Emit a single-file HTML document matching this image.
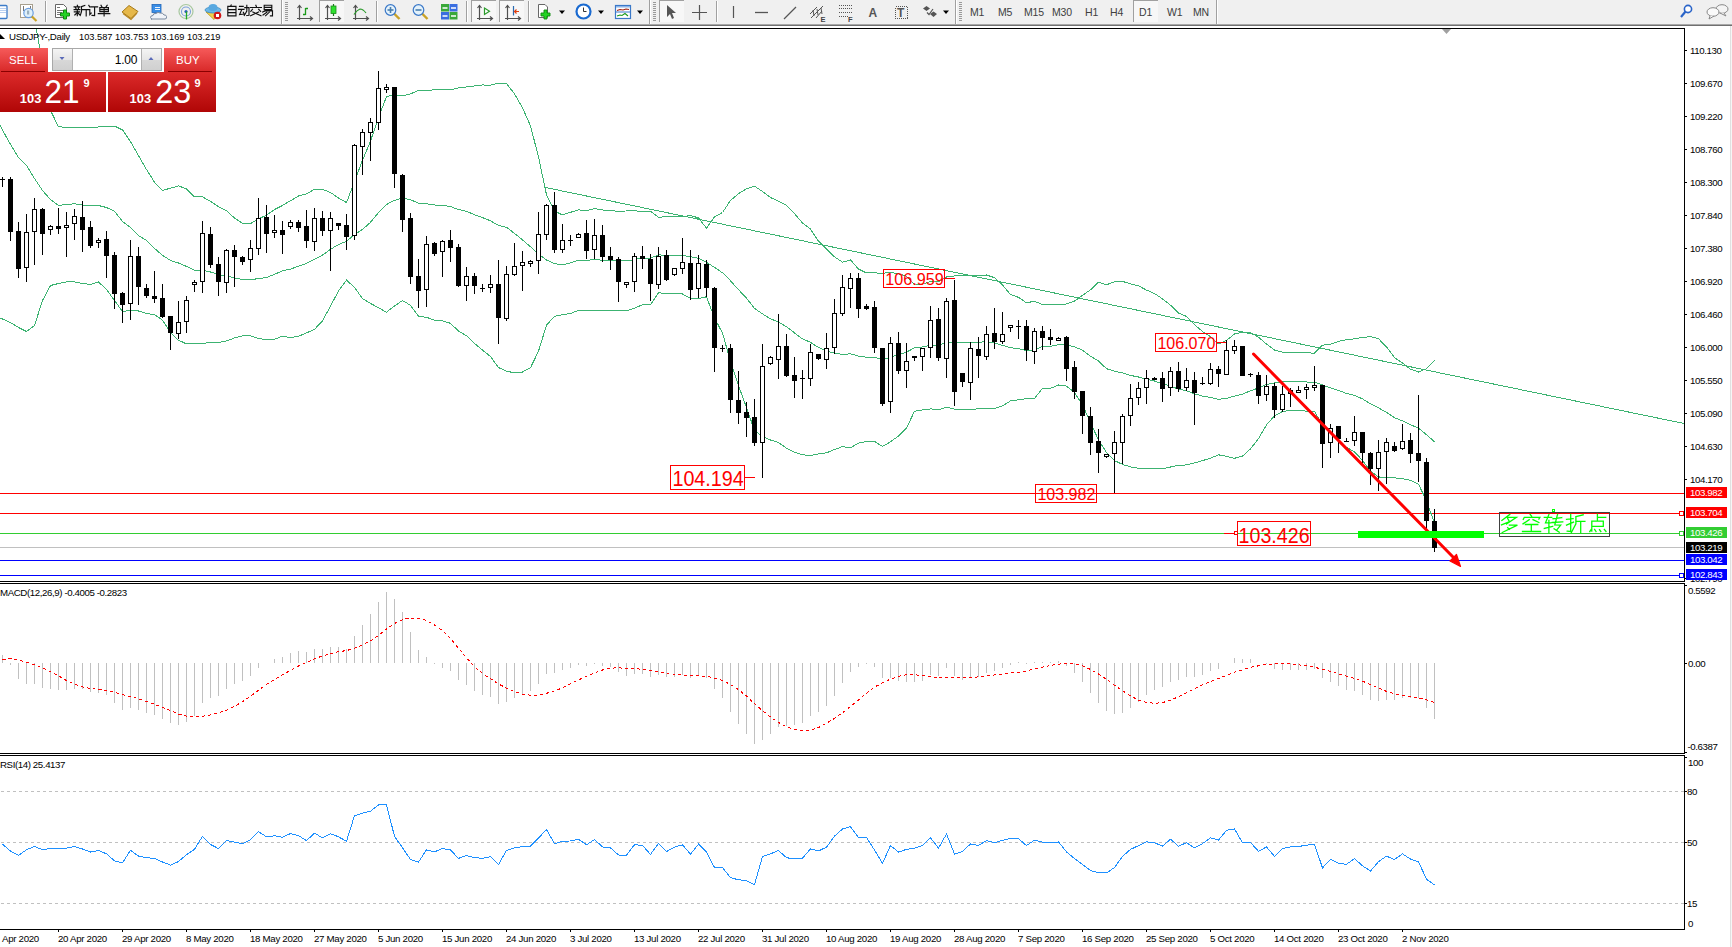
<!DOCTYPE html>
<html><head><meta charset="utf-8"><title>USDJPY Daily</title><style>
html,body{margin:0;padding:0;width:1732px;height:947px;overflow:hidden;background:#fff}
svg{display:block}
text{font-family:"Liberation Sans",sans-serif}
.ax{font-size:9.7px;letter-spacing:-0.4px;fill:#000}
</style></head><body>
<svg width="1732" height="947" viewBox="0 0 1732 947">
<defs><clipPath id="cm"><rect x="0" y="29" width="1684" height="552"/></clipPath>
<clipPath id="cmacd"><rect x="0" y="584" width="1684" height="169"/></clipPath>
<clipPath id="crsi"><rect x="0" y="756" width="1684" height="173"/></clipPath>
<linearGradient id="gtab" x1="0" y1="0" x2="0" y2="1"><stop offset="0" stop-color="#f65a5a"/><stop offset="1" stop-color="#d82828"/></linearGradient>
<linearGradient id="gpx" x1="0" y1="0" x2="0" y2="1"><stop offset="0" stop-color="#dc2a2a"/><stop offset="1" stop-color="#b00606"/></linearGradient>
<linearGradient id="gbtn" x1="0" y1="0" x2="0" y2="1"><stop offset="0" stop-color="#f4f4f4"/><stop offset="0.5" stop-color="#e6e6e6"/><stop offset="0.5" stop-color="#d8d8d8"/><stop offset="1" stop-color="#d0d0d0"/></linearGradient>
</defs>

<rect x="0" y="0" width="1732" height="24" fill="#f0f0f0"/>
<rect x="0" y="24" width="1732" height="1" fill="#a8a8a8"/><rect x="0" y="25" width="1732" height="1" fill="#707070"/>
<rect x="-4" y="5.5" width="11" height="13" rx="1" fill="#fff" stroke="#3d7cc9" stroke-width="1.3"/>
<path d="M-2 8.5H6M-2 10.5H6M-2 12.5H6" stroke="#b8cff0" stroke-width="1"/>
<rect x="20.5" y="4.5" width="12" height="13" fill="#fff" stroke="#a8a08e"/>
<path d="M23.5 6V11M30.5 6V11" stroke="#777" stroke-width="1"/>
<circle cx="28.5" cy="13" r="4.7" fill="#dff0fa" stroke="#6a9ee0" stroke-width="1.2"/>
<rect x="27" y="10.5" width="2.2" height="4" fill="#9ab0c0"/>
<path d="M32 16.5L36.5 21" stroke="#c9a227" stroke-width="2.2"/>
<rect x="45" y="1" width="1" height="21" fill="#a0a0a0"/><rect x="46" y="1" width="1" height="21" fill="#ffffff"/>
<path d="M55.5 4.5H63.5L66.5 7.5V17.5H55.5Z" fill="#fff" stroke="#666"/>
<path d="M57 7.5H60M57 10.5H63M57 12.5H62M57 14.5H61" stroke="#777"/>
<path d="M63.5 10H66.5V13H69.5V16H66.5V19H63.5V16H60.5V13H63.5Z" fill="#22d322" stroke="#0c8a0c" stroke-width="1"/>
<path d="M77.3 5.2 L77.8 6.4 M74.1 6.9 L79.9 6.9 M75.5 7.8 L76.2 9.0 M78.8 7.8 L78.2 9.0 M74.1 9.6 L79.9 9.6 M74.3 11.8 L79.6 11.8 M77.3 9.6 L77.3 15.6 M77.3 12.5 L74.8 15.0 M77.3 12.5 L79.5 14.5 M84.8 5.5 L81.5 6.6 M81.5 6.6 L81.5 11.7 L80.2 15.6 M81.5 9.6 L88.0 9.6 M86.2 9.6 L86.2 15.9 M88.8 5.4 L89.8 7.0 M88.2 9.6 L89.8 9.6 L89.8 14.5 L91.2 13.0 M90.8 6.8 L97.6 6.8 M94.6 6.8 L94.6 15.6 L92.0 15.4 M101.0 5.3 L101.8 6.6 M107.2 5.2 L106.2 6.6 M99.8 7.6 L108.4 7.6 L108.4 11.6 L99.8 11.6 L99.8 7.6 M99.8 9.6 L108.4 9.6 M104.1 7.6 L104.1 16.0 M98.3 13.6 L109.8 13.6 " fill="none" stroke="#111" stroke-width="1.15" stroke-linecap="square"/>
<path d="M122 12L129 5.5L138 11.5L131 18.5Z" fill="#e6b84a" stroke="#a67a1a" stroke-width="1"/>
<path d="M123 13.5L131 19.5L137 13" fill="none" stroke="#b8861f" stroke-width="1.2"/>
<rect x="152" y="4.5" width="9" height="8" fill="#3a8ee6" stroke="#1f64b8" stroke-width="0.8"/>
<path d="M155 7.5H160M155 9.5H160" stroke="#fff" stroke-width="0.9"/>
<path d="M151 19H165Q167 19 166.5 16.5Q166 14.5 164 15Q163 12.5 160 13Q158 11.5 156 13.5Q153 13 153 15.5Q150.5 15.5 150.5 17.5Q151 19 152 19Z" fill="#f0f3f8" stroke="#7a8aa0" stroke-width="1"/>
<circle cx="186" cy="11.5" r="7" fill="none" stroke="#a8c8a0" stroke-width="1.2"/>
<circle cx="186" cy="11.5" r="4.5" fill="none" stroke="#7aa0d8" stroke-width="1.1"/>
<circle cx="186" cy="11.5" r="1.6" fill="#2a5fc0"/>
<path d="M186.5 11.5V19.5" stroke="#22aa22" stroke-width="1.3"/>
<path d="M206 12L214 19.5L220 13Z" fill="#f2d24a" stroke="#b89a20" stroke-width="0.8"/>
<ellipse cx="213" cy="10" rx="8" ry="3" fill="#6ab8e8" stroke="#3a88c0" stroke-width="0.8"/>
<ellipse cx="213" cy="7.5" rx="4.5" ry="3.5" fill="#58a8e0"/>
<circle cx="217.5" cy="15.5" r="3.8" fill="#d01818"/><rect x="216" y="14" width="3" height="3" fill="#fff"/>
<path d="M231.2 5.0 L230.5 6.2 M227.8 6.4 L236.0 6.4 L236.0 15.8 L227.8 15.8 L227.8 6.4 M227.8 9.6 L236.0 9.6 M227.8 12.6 L236.0 12.6 M239.5 6.4 L243.2 6.4 M238.5 9.3 L244.0 9.3 M241.8 9.5 L239.6 14.6 L244.5 14.0 M243.3 12.2 L244.6 14.8 M244.8 7.6 L249.0 7.6 L249.0 15.2 L246.8 15.5 M246.8 5.3 L246.8 11.0 L244.3 15.5 M255.8 5.2 L256.4 6.6 M250.6 7.5 L261.4 7.5 M252.5 9.2 L250.8 11.4 M258.6 9.2 L260.6 11.4 M252.8 12.0 L261.0 15.8 M258.6 12.0 L250.6 15.8 M264.2 5.2 L271.8 5.2 L271.8 9.6 L264.2 9.6 L264.2 5.2 M264.2 7.4 L271.8 7.4 M262.6 12.0 L265.8 10.6 M265.4 10.9 L272.5 10.9 L272.5 15.8 L270.4 15.8 M266.8 12.2 L263.0 15.0 M269.3 12.2 L265.6 15.8 " fill="none" stroke="#111" stroke-width="1.15" stroke-linecap="square"/>
<rect x="281" y="0" width="1" height="24" fill="#a0a0a0"/><rect x="282" y="0" width="1" height="24" fill="#ffffff"/>
<rect x="285" y="2" width="3" height="1" fill="#9a9a9a"/><rect x="285" y="4" width="3" height="1" fill="#9a9a9a"/><rect x="285" y="6" width="3" height="1" fill="#9a9a9a"/><rect x="285" y="8" width="3" height="1" fill="#9a9a9a"/><rect x="285" y="10" width="3" height="1" fill="#9a9a9a"/><rect x="285" y="12" width="3" height="1" fill="#9a9a9a"/><rect x="285" y="14" width="3" height="1" fill="#9a9a9a"/><rect x="285" y="16" width="3" height="1" fill="#9a9a9a"/><rect x="285" y="18" width="3" height="1" fill="#9a9a9a"/><rect x="285" y="20" width="3" height="1" fill="#9a9a9a"/>
<g stroke="#505050" stroke-width="1.2" fill="none"><path d="M299.5 6V20M297 18.5H312"/><path d="M297.5 8L299.5 5.5L301.5 8M310 16.5L312.5 18.5L310 20.5"/></g>
<path d="M305.5 15V8M305.5 8.5H308M305.5 14.5H303" stroke="#1a9a1a" stroke-width="1.3" fill="none"/>
<rect x="319" y="0" width="25" height="22" fill="#f7f7f7"/><rect x="319" y="0" width="25" height="1" fill="#a0a0a0"/><rect x="319" y="0" width="1" height="22" fill="#a0a0a0"/>
<g stroke="#505050" stroke-width="1.2" fill="none"><path d="M327.5 6V20M325 18.5H340"/><path d="M325.5 8L327.5 5.5L329.5 8M338 16.5L340.5 18.5L338 20.5"/></g>
<path d="M333.5 4V16" stroke="#1a7a1a" stroke-width="1.2"/><rect x="331" y="6" width="5" height="7.5" fill="#2ee02e" stroke="#1a8a1a" stroke-width="0.8"/>
<g stroke="#505050" stroke-width="1.2" fill="none"><path d="M355.5 6V20M353 18.5H368"/><path d="M353.5 8L355.5 5.5L357.5 8M366 16.5L368.5 18.5L366 20.5"/></g>
<path d="M354 14.5Q357 10 360 9Q363 9 366 13" fill="none" stroke="#2a9a2a" stroke-width="1.2"/>
<rect x="376" y="1" width="1" height="21" fill="#a0a0a0"/><rect x="377" y="1" width="1" height="21" fill="#ffffff"/>
<path d="M394.0 13.5L399.5 19" stroke="#c9a227" stroke-width="2.4"/>
<circle cx="390.5" cy="10" r="5.3" fill="#e4f2fb" stroke="#3a78c8" stroke-width="1.2"/>
<path d="M387.5 10H393.5" stroke="#4a7fb0" stroke-width="1.6"/>
<path d="M390.5 7V13" stroke="#4a7fb0" stroke-width="1.6"/>
<path d="M422.0 13.5L427.5 19" stroke="#c9a227" stroke-width="2.4"/>
<circle cx="418.5" cy="10" r="5.3" fill="#e4f2fb" stroke="#3a78c8" stroke-width="1.2"/>
<path d="M415.5 10H421.5" stroke="#4a7fb0" stroke-width="1.6"/>
<rect x="441" y="4" width="8" height="7.5" fill="#3aa83a"/><rect x="449.5" y="4" width="8" height="7.5" fill="#3a6ee0"/>
<rect x="441" y="12" width="8" height="7.5" fill="#3a6ee0"/><rect x="449.5" y="12" width="8" height="7.5" fill="#3aa83a"/>
<path d="M442.5 8H447.5M451 8H456M442.5 16H447.5M451 16H456" stroke="#fff" stroke-width="1.6"/>
<rect x="466" y="1" width="1" height="21" fill="#a0a0a0"/><rect x="467" y="1" width="1" height="21" fill="#ffffff"/>
<rect x="471" y="0" width="25" height="22" fill="#f7f7f7"/><rect x="471" y="0" width="25" height="1" fill="#a0a0a0"/><rect x="471" y="0" width="1" height="22" fill="#a0a0a0"/>
<g stroke="#505050" stroke-width="1.2" fill="none"><path d="M479.5 6V20M477 18.5H492"/><path d="M477.5 8L479.5 5.5L481.5 8M490 16.5L492.5 18.5L490 20.5"/></g>
<path d="M484.5 8V14.5L489.5 11.2Z" fill="#fff" stroke="#2a9a2a" stroke-width="1.2"/>
<rect x="499" y="0" width="25" height="22" fill="#f7f7f7"/><rect x="499" y="0" width="25" height="1" fill="#a0a0a0"/><rect x="499" y="0" width="1" height="22" fill="#a0a0a0"/>
<g stroke="#505050" stroke-width="1.2" fill="none"><path d="M507.5 6V20M505 18.5H520"/><path d="M505.5 8L507.5 5.5L509.5 8M518 16.5L520.5 18.5L518 20.5"/></g>
<path d="M513.5 6V15.5" stroke="#2a6ab0" stroke-width="1.2"/><path d="M514.5 11.5H519M516.5 9.5L514.5 11.5L516.5 13.5" stroke="#e04010" stroke-width="1.2" fill="none"/>
<rect x="528" y="1" width="1" height="21" fill="#a0a0a0"/><rect x="529" y="1" width="1" height="21" fill="#ffffff"/>
<path d="M538.5 4.5H545L547.5 7V17.5H538.5Z" fill="#fff" stroke="#666"/>
<path d="M544 10H547V13H550V16H547V19H544V16H541V13H544Z" fill="#22d322" stroke="#0c8a0c" stroke-width="0.9"/>
<path d="M559 10.5H565L562 14Z" fill="#000"/>
<circle cx="583.5" cy="11.5" r="7" fill="#fff" stroke="#1a6ad0" stroke-width="2.2"/>
<path d="M583.5 7.5V11.5H586.5" stroke="#333" stroke-width="1" fill="none"/>
<path d="M598 10.5H604L601 14Z" fill="#000"/>
<rect x="615.5" y="5.5" width="15" height="13" fill="#fff" stroke="#3a78c8" stroke-width="1.2"/>
<rect x="616" y="6" width="14" height="1.5" fill="#8ab4e8"/><path d="M616 12H630" stroke="#3a78c8"/>
<path d="M617 10.5L620 9.5L623 10L626 9L629 9.5" stroke="#a02010" fill="none" stroke-width="1.1"/>
<path d="M617 16L620 15L622 15.5L625 13.5L628 16" stroke="#1a9a1a" fill="none" stroke-width="1.1"/>
<path d="M637 10.5H643L640 14Z" fill="#000"/>
<rect x="649" y="0" width="1" height="24" fill="#a0a0a0"/><rect x="650" y="0" width="1" height="24" fill="#ffffff"/>
<rect x="653" y="2" width="3" height="1" fill="#9a9a9a"/><rect x="653" y="4" width="3" height="1" fill="#9a9a9a"/><rect x="653" y="6" width="3" height="1" fill="#9a9a9a"/><rect x="653" y="8" width="3" height="1" fill="#9a9a9a"/><rect x="653" y="10" width="3" height="1" fill="#9a9a9a"/><rect x="653" y="12" width="3" height="1" fill="#9a9a9a"/><rect x="653" y="14" width="3" height="1" fill="#9a9a9a"/><rect x="653" y="16" width="3" height="1" fill="#9a9a9a"/><rect x="653" y="18" width="3" height="1" fill="#9a9a9a"/><rect x="653" y="20" width="3" height="1" fill="#9a9a9a"/>
<rect x="659" y="0" width="25" height="22" fill="#f7f7f7"/><rect x="659" y="0" width="25" height="1" fill="#a0a0a0"/><rect x="659" y="0" width="1" height="22" fill="#a0a0a0"/>
<path d="M667 5V17L670 14L672 19L674 18L672 13H676Z" fill="#555"/>
<path d="M692 12.5H707M699.5 5V20" stroke="#555" stroke-width="1.2"/>
<rect x="716" y="1" width="1" height="21" fill="#a0a0a0"/><rect x="717" y="1" width="1" height="21" fill="#ffffff"/>
<path d="M733.5 6V18" stroke="#555" stroke-width="1.2"/>
<path d="M755 12.5H768" stroke="#555" stroke-width="1.3"/>
<path d="M784 19L796 7" stroke="#555" stroke-width="1.2"/>
<path d="M810 14L817 7M811 18L823 6M816 18L822 11M813 10L814 16M817 9L818 15M821 8L822 14" stroke="#555" stroke-width="1"/>
<text x="820.5" y="21.5" font-size="7.5" font-weight="bold" fill="#444">E</text>
<path d="M839 5.5H852M839 8.5H852M839 12.5H852M839 16.5H848" stroke="#555" stroke-dasharray="1 1" shape-rendering="crispEdges"/>
<text x="848" y="21.5" font-size="7.5" font-weight="bold" fill="#444">F</text>
<text x="868.5" y="17" font-size="12" font-weight="bold" fill="#555">A</text>
<rect x="895.5" y="6.5" width="12" height="12" fill="none" stroke="#555" stroke-dasharray="1 1" shape-rendering="crispEdges"/>
<text x="897" y="17" font-size="12" font-weight="bold" fill="#555">T</text>
<path d="M923 8.5L926.5 6L930 8.5L926.5 11ZM930 14L933.5 11.5L937 14L933.5 17Z" fill="#555"/><path d="M927 12.5L929 14.5L933 9" stroke="#555" stroke-width="1.2" fill="none"/>
<path d="M943 10.5H949L946 14Z" fill="#000"/>
<rect x="955" y="0" width="1" height="24" fill="#a0a0a0"/><rect x="956" y="0" width="1" height="24" fill="#ffffff"/>
<rect x="959" y="2" width="3" height="1" fill="#9a9a9a"/><rect x="959" y="4" width="3" height="1" fill="#9a9a9a"/><rect x="959" y="6" width="3" height="1" fill="#9a9a9a"/><rect x="959" y="8" width="3" height="1" fill="#9a9a9a"/><rect x="959" y="10" width="3" height="1" fill="#9a9a9a"/><rect x="959" y="12" width="3" height="1" fill="#9a9a9a"/><rect x="959" y="14" width="3" height="1" fill="#9a9a9a"/><rect x="959" y="16" width="3" height="1" fill="#9a9a9a"/><rect x="959" y="18" width="3" height="1" fill="#9a9a9a"/><rect x="959" y="20" width="3" height="1" fill="#9a9a9a"/>
<text x="970" y="16" font-size="10.5" fill="#404040" letter-spacing="-0.2">M1</text>
<text x="998" y="16" font-size="10.5" fill="#404040" letter-spacing="-0.2">M5</text>
<text x="1024" y="16" font-size="10.5" fill="#404040" letter-spacing="-0.2">M15</text>
<text x="1052" y="16" font-size="10.5" fill="#404040" letter-spacing="-0.2">M30</text>
<text x="1085" y="16" font-size="10.5" fill="#404040" letter-spacing="-0.2">H1</text>
<text x="1110" y="16" font-size="10.5" fill="#404040" letter-spacing="-0.2">H4</text>
<rect x="1133" y="0" width="25" height="22" fill="#f7f7f7"/><rect x="1133" y="0" width="25" height="1" fill="#a0a0a0"/><rect x="1133" y="0" width="1" height="22" fill="#a0a0a0"/>
<text x="1139" y="16" font-size="10.5" fill="#404040" letter-spacing="-0.2">D1</text>
<text x="1167" y="16" font-size="10.5" fill="#404040" letter-spacing="-0.2">W1</text>
<text x="1193" y="16" font-size="10.5" fill="#404040" letter-spacing="-0.2">MN</text>
<rect x="1216" y="0" width="1" height="24" fill="#a0a0a0"/><rect x="1217" y="0" width="1" height="24" fill="#ffffff"/>
<circle cx="1688" cy="9" r="3.6" fill="#fff" stroke="#2a64c8" stroke-width="1.6"/><path d="M1685.5 11.5L1681 17" stroke="#2a64c8" stroke-width="2.2"/>
<ellipse cx="1722" cy="9" rx="6" ry="4.3" fill="#f4f4f4" stroke="#888"/><path d="M1724 13L1726 16L1720 13" fill="#f4f4f4" stroke="#888"/>
<ellipse cx="1713" cy="12" rx="6" ry="4.3" fill="#fafafa" stroke="#888"/><path d="M1710 16L1709 19L1714 16" fill="#fafafa" stroke="#888"/>
<rect x="0" y="26" width="1732" height="2" fill="#fff"/>
<g shape-rendering="crispEdges">
<path d="M0 28.5H1684.5V581.5H0" fill="none" stroke="#000"/>
<path d="M0 583.5H1684.5V753.5H0" fill="none" stroke="#000"/>
<path d="M0 755.5H1684.5V929.5H0" fill="none" stroke="#000"/>
<rect x="1730" y="26" width="1" height="921" fill="#e0e0e0"/><rect x="1731" y="26" width="1" height="921" fill="#f6f6f6"/>
</g>
<g clip-path="url(#cm)">
<path d="M0 493.5H1684" stroke="#ff0000" shape-rendering="crispEdges"/>
<path d="M0 513.5H1684" stroke="#ff0000" shape-rendering="crispEdges"/>
<path d="M0 533.5H1684" stroke="#32cd32" shape-rendering="crispEdges"/>
<path d="M0 547.5H1684" stroke="#c0c0c0" shape-rendering="crispEdges"/>
<path d="M0 560.5H1684" stroke="#0000ff" shape-rendering="crispEdges"/>
<path d="M0 575.5H1684" stroke="#0000ff" shape-rendering="crispEdges"/>
<polyline points="34.5,18.5 42.5,63.5 50.5,110.5 58.5,126.7 66.5,127.5 74.5,127.8 82.5,127.8 90.5,127.5 98.5,127.0 106.5,126.7 114.5,126.1 122.5,129.9 130.5,141.5 138.5,155.5 146.5,169.5 154.5,182.2 162.5,190.4 170.5,188.2 178.5,185.9 186.5,188.9 194.5,196.8 202.5,196.8 210.5,201.4 218.5,206.7 226.5,210.8 234.5,218.0 242.5,223.2 250.5,223.6 258.5,218.7 266.5,215.3 274.5,209.5 282.5,205.5 290.5,200.7 298.5,196.0 306.5,193.9 314.5,189.3 322.5,189.4 330.5,192.5 338.5,198.0 346.5,202.6 354.5,181.4 362.5,160.3 370.5,141.1 378.5,117.4 386.5,96.7 394.5,94.7 402.5,96.0 410.5,93.9 418.5,90.4 426.5,90.3 434.5,89.9 442.5,89.9 450.5,89.8 458.5,87.9 466.5,86.9 474.5,86.0 482.5,85.0 490.5,85.1 498.5,83.3 506.5,83.6 514.5,93.8 522.5,107.7 530.5,125.9 538.5,157.0 546.5,194.8 554.5,211.2 562.5,214.9 570.5,212.3 578.5,209.9 586.5,210.6 594.5,208.5 602.5,210.0 610.5,210.9 618.5,211.1 626.5,211.0 634.5,210.9 642.5,211.3 650.5,211.3 658.5,217.2 666.5,216.8 674.5,216.8 682.5,216.8 690.5,215.4 698.5,218.0 706.5,228.1 714.5,216.9 722.5,212.5 730.5,200.4 738.5,193.7 746.5,188.8 754.5,186.1 762.5,191.5 770.5,197.5 778.5,201.3 786.5,205.2 794.5,213.6 802.5,223.0 810.5,229.1 818.5,241.1 826.5,249.1 834.5,256.8 842.5,262.2 850.5,259.9 858.5,269.1 866.5,272.9 874.5,272.9 882.5,273.3 890.5,272.3 898.5,273.8 906.5,276.2 914.5,284.4 922.5,284.1 930.5,281.4 938.5,281.8 946.5,277.0 954.5,276.0 962.5,275.8 970.5,275.7 978.5,275.7 986.5,275.0 994.5,277.7 1002.5,284.9 1010.5,294.5 1018.5,297.4 1026.5,302.8 1034.5,301.2 1042.5,304.7 1050.5,304.5 1058.5,304.4 1066.5,304.0 1074.5,301.1 1082.5,295.3 1090.5,289.8 1098.5,282.2 1106.5,284.8 1114.5,281.7 1122.5,281.4 1130.5,283.9 1138.5,285.8 1146.5,290.1 1154.5,293.5 1162.5,298.9 1170.5,305.2 1178.5,313.0 1186.5,316.4 1194.5,324.6 1202.5,331.5 1210.5,336.7 1218.5,343.9 1226.5,340.4 1234.5,334.0 1242.5,332.1 1250.5,332.6 1258.5,337.2 1266.5,344.1 1274.5,350.0 1282.5,352.1 1290.5,352.5 1298.5,352.4 1306.5,352.9 1314.5,353.1 1322.5,345.2 1330.5,344.3 1338.5,341.3 1346.5,339.6 1354.5,338.9 1362.5,337.4 1370.5,336.7 1378.5,338.7 1386.5,347.0 1394.5,357.5 1402.5,363.1 1410.5,369.2 1418.5,372.0 1426.5,368.7 1434.5,360.2" fill="none" stroke="#3cb371" stroke-width="1" shape-rendering="crispEdges"/>
<polyline points="-5.5,113.5 2.5,130.0 10.5,144.5 18.5,157.5 26.5,165.5 34.5,178.5 42.5,190.5 50.5,199.5 58.5,205.5 66.5,204.5 74.5,203.8 82.5,205.0 90.5,205.5 98.5,205.5 106.5,207.5 114.5,211.2 122.5,221.5 130.5,227.5 138.5,235.5 146.5,240.5 154.5,248.4 162.5,255.3 170.5,260.4 178.5,263.0 186.5,266.4 194.5,270.1 202.5,270.1 210.5,272.0 218.5,274.6 226.5,275.9 234.5,277.9 242.5,279.6 250.5,279.7 258.5,278.6 266.5,277.5 274.5,274.3 282.5,270.8 290.5,269.1 298.5,266.2 306.5,263.4 314.5,259.4 322.5,255.1 330.5,249.3 338.5,244.5 346.5,241.3 354.5,234.5 362.5,229.4 370.5,222.3 378.5,212.6 386.5,204.5 394.5,200.3 402.5,198.2 410.5,199.6 418.5,203.3 426.5,203.8 434.5,205.0 442.5,205.3 450.5,206.6 458.5,209.5 466.5,211.3 474.5,214.7 482.5,217.6 490.5,220.8 498.5,225.4 506.5,227.3 514.5,233.4 522.5,239.9 530.5,246.8 538.5,254.1 546.5,260.0 554.5,263.7 562.5,264.8 570.5,262.9 578.5,260.1 586.5,260.4 594.5,259.5 602.5,260.3 610.5,260.9 618.5,260.7 626.5,261.0 634.5,259.5 642.5,258.0 650.5,258.0 658.5,254.9 666.5,255.2 674.5,255.4 682.5,255.4 690.5,256.8 698.5,258.3 706.5,262.4 714.5,267.4 722.5,272.8 730.5,280.8 738.5,289.7 746.5,298.1 754.5,308.4 762.5,313.9 770.5,318.8 778.5,322.0 786.5,326.7 794.5,332.9 802.5,338.9 810.5,342.3 818.5,347.5 826.5,350.9 834.5,353.2 842.5,354.4 850.5,353.8 858.5,356.1 866.5,357.2 874.5,357.2 882.5,359.9 890.5,357.0 898.5,354.9 906.5,352.1 914.5,347.9 922.5,347.0 930.5,345.2 938.5,345.8 946.5,342.0 954.5,342.6 962.5,342.7 970.5,342.5 978.5,342.3 986.5,341.6 994.5,343.0 1002.5,345.4 1010.5,347.7 1018.5,348.6 1026.5,350.7 1034.5,349.8 1042.5,346.5 1050.5,346.4 1058.5,344.7 1066.5,345.1 1074.5,346.8 1082.5,350.2 1090.5,356.3 1098.5,361.0 1106.5,368.7 1114.5,371.2 1122.5,372.9 1130.5,375.4 1138.5,377.0 1146.5,379.2 1154.5,381.0 1162.5,383.8 1170.5,386.1 1178.5,389.2 1186.5,390.7 1194.5,393.8 1202.5,396.1 1210.5,397.5 1218.5,399.3 1226.5,398.4 1234.5,396.1 1242.5,394.1 1250.5,390.8 1258.5,387.9 1266.5,384.5 1274.5,382.9 1282.5,381.8 1290.5,381.4 1298.5,381.5 1306.5,382.0 1314.5,382.2 1322.5,385.0 1330.5,387.8 1338.5,390.4 1346.5,393.5 1354.5,395.4 1362.5,398.9 1370.5,403.9 1378.5,407.8 1386.5,412.4 1394.5,417.7 1402.5,420.9 1410.5,424.8 1418.5,428.1 1426.5,434.8 1434.5,441.7" fill="none" stroke="#3cb371" stroke-width="1" shape-rendering="crispEdges"/>
<polyline points="-5.5,317.0 2.5,319.0 10.5,322.5 18.5,327.5 26.5,331.5 34.5,325.5 42.5,300.5 50.5,285.5 58.5,283.5 66.5,282.0 74.5,281.9 82.5,283.5 90.5,284.5 98.5,281.9 106.5,289.5 114.5,300.5 122.5,311.5 130.5,310.5 138.5,311.0 146.5,313.5 154.5,314.6 162.5,320.2 170.5,332.6 178.5,340.2 186.5,343.9 194.5,343.3 202.5,343.4 210.5,342.6 218.5,342.6 226.5,341.0 234.5,337.9 242.5,335.9 250.5,335.7 258.5,338.4 266.5,339.7 274.5,339.2 282.5,336.2 290.5,337.6 298.5,336.3 306.5,332.9 314.5,329.4 322.5,320.8 330.5,306.1 338.5,291.0 346.5,280.1 354.5,287.5 362.5,298.5 370.5,303.4 378.5,307.8 386.5,312.2 394.5,306.0 402.5,300.5 410.5,305.3 418.5,316.2 426.5,317.3 434.5,320.1 442.5,320.8 450.5,323.3 458.5,331.1 466.5,335.7 474.5,343.4 482.5,350.1 490.5,356.5 498.5,367.6 506.5,371.1 514.5,372.9 522.5,372.0 530.5,367.7 538.5,351.2 546.5,325.1 554.5,316.3 562.5,314.6 570.5,313.5 578.5,310.3 586.5,310.3 594.5,310.4 602.5,310.6 610.5,310.9 618.5,310.2 626.5,311.0 634.5,308.1 642.5,304.7 650.5,304.7 658.5,292.7 666.5,293.6 674.5,293.9 682.5,294.0 690.5,298.3 698.5,298.6 706.5,296.8 714.5,317.9 722.5,333.1 730.5,361.2 738.5,385.8 746.5,407.4 754.5,430.8 762.5,436.3 770.5,440.0 778.5,442.6 786.5,448.2 794.5,452.2 802.5,454.8 810.5,455.6 818.5,453.9 826.5,452.8 834.5,449.5 842.5,446.6 850.5,447.8 858.5,443.2 866.5,441.4 874.5,441.4 882.5,446.5 890.5,441.8 898.5,436.0 906.5,428.0 914.5,411.3 922.5,409.9 930.5,408.9 938.5,409.7 946.5,407.1 954.5,409.1 962.5,409.6 970.5,409.3 978.5,408.9 986.5,408.2 994.5,408.4 1002.5,405.8 1010.5,400.9 1018.5,399.8 1026.5,398.6 1034.5,398.4 1042.5,388.3 1050.5,388.3 1058.5,385.0 1066.5,386.1 1074.5,392.5 1082.5,405.0 1090.5,422.7 1098.5,439.9 1106.5,452.6 1114.5,460.6 1122.5,464.4 1130.5,466.9 1138.5,468.2 1146.5,468.3 1154.5,468.6 1162.5,468.7 1170.5,467.0 1178.5,465.4 1186.5,464.9 1194.5,462.9 1202.5,460.6 1210.5,458.2 1218.5,454.8 1226.5,456.4 1234.5,458.3 1242.5,456.1 1250.5,448.9 1258.5,438.6 1266.5,424.9 1274.5,415.8 1282.5,411.5 1290.5,410.3 1298.5,410.5 1306.5,411.1 1314.5,411.4 1322.5,424.9 1330.5,431.3 1338.5,439.4 1346.5,447.3 1354.5,451.9 1362.5,460.4 1370.5,471.2 1378.5,476.9 1386.5,477.8 1394.5,477.8 1402.5,478.7 1410.5,480.4 1418.5,484.2 1426.5,500.9 1434.5,523.2" fill="none" stroke="#3cb371" stroke-width="1" shape-rendering="crispEdges"/>
<path d="M545.5 187.5L1684 423.5" stroke="#3cb371" fill="none" shape-rendering="crispEdges"/>
<g shape-rendering="crispEdges" stroke="#000" stroke-width="1">
<path d="M2.5 177V187"/>
<path d="M0 179.5H5"/>
<path d="M10.5 177V241"/>
<rect x="8" y="179" width="5" height="53" fill="#000" stroke="none"/>
<path d="M18.5 222V278"/>
<rect x="16" y="231" width="5" height="38" fill="#000" stroke="none"/>
<path d="M26.5 214V282"/>
<rect x="24.5" y="232.5" width="4" height="35" fill="#fff"/>
<path d="M34.5 198V265"/>
<rect x="32.5" y="209.5" width="4" height="22" fill="#fff"/>
<path d="M42.5 208V255"/>
<rect x="40" y="209" width="5" height="25" fill="#000" stroke="none"/>
<path d="M50.5 225V235"/>
<rect x="48.5" y="226.5" width="4" height="3" fill="#fff"/>
<path d="M58.5 208V234"/>
<rect x="56" y="226" width="5" height="3" fill="#000" stroke="none"/>
<path d="M66.5 212V257"/>
<rect x="64.5" y="225.5" width="4" height="2" fill="#fff"/>
<path d="M74.5 209V240"/>
<rect x="72.5" y="216.5" width="4" height="7" fill="#fff"/>
<path d="M82.5 201V252"/>
<rect x="80" y="217" width="5" height="13" fill="#000" stroke="none"/>
<path d="M90.5 221V248"/>
<rect x="88" y="227" width="5" height="19" fill="#000" stroke="none"/>
<path d="M98.5 238V248"/>
<rect x="96.5" y="240.5" width="4" height="2" fill="#fff"/>
<path d="M106.5 231V278"/>
<rect x="104" y="239" width="5" height="17" fill="#000" stroke="none"/>
<path d="M114.5 252V309"/>
<rect x="112" y="255" width="5" height="39" fill="#000" stroke="none"/>
<path d="M122.5 292V323"/>
<rect x="120" y="293" width="5" height="12" fill="#000" stroke="none"/>
<path d="M130.5 240V320"/>
<rect x="128.5" y="256.5" width="4" height="47" fill="#fff"/>
<path d="M138.5 247V305"/>
<rect x="136" y="256" width="5" height="31" fill="#000" stroke="none"/>
<path d="M146.5 284V298"/>
<rect x="144" y="288" width="5" height="8" fill="#000" stroke="none"/>
<path d="M154.5 271V303"/>
<rect x="152" y="296" width="5" height="3" fill="#000" stroke="none"/>
<path d="M162.5 284V318"/>
<rect x="160" y="298" width="5" height="19" fill="#000" stroke="none"/>
<path d="M170.5 316V350"/>
<rect x="168" y="316" width="5" height="17" fill="#000" stroke="none"/>
<path d="M178.5 301V339"/>
<rect x="176.5" y="322.5" width="4" height="11" fill="#fff"/>
<path d="M186.5 296V333"/>
<rect x="184.5" y="300.5" width="4" height="21" fill="#fff"/>
<path d="M194.5 280V292"/>
<rect x="192.5" y="282.5" width="4" height="2" fill="#fff"/>
<path d="M202.5 221V293"/>
<rect x="200.5" y="233.5" width="4" height="48" fill="#fff"/>
<path d="M210.5 227V268"/>
<rect x="208" y="234" width="5" height="31" fill="#000" stroke="none"/>
<path d="M218.5 257V296"/>
<rect x="216" y="264" width="5" height="18" fill="#000" stroke="none"/>
<path d="M226.5 249V293"/>
<rect x="224.5" y="250.5" width="4" height="32" fill="#fff"/>
<path d="M234.5 245V287"/>
<rect x="232" y="250" width="5" height="7" fill="#000" stroke="none"/>
<path d="M242.5 256V265"/>
<rect x="240" y="257" width="5" height="5" fill="#000" stroke="none"/>
<path d="M250.5 240V272"/>
<rect x="248.5" y="248.5" width="4" height="11" fill="#fff"/>
<path d="M258.5 198V255"/>
<rect x="256.5" y="218.5" width="4" height="30" fill="#fff"/>
<path d="M266.5 205V253"/>
<rect x="264" y="217" width="5" height="17" fill="#000" stroke="none"/>
<path d="M274.5 215V238"/>
<rect x="272.5" y="230.5" width="4" height="2" fill="#fff"/>
<path d="M282.5 221V254"/>
<rect x="280" y="230" width="5" height="5" fill="#000" stroke="none"/>
<path d="M290.5 220V229"/>
<rect x="288.5" y="222.5" width="4" height="4" fill="#fff"/>
<path d="M298.5 220V232"/>
<rect x="296" y="222" width="5" height="6" fill="#000" stroke="none"/>
<path d="M306.5 210V248"/>
<rect x="304" y="226" width="5" height="15" fill="#000" stroke="none"/>
<path d="M314.5 208V251"/>
<rect x="312.5" y="218.5" width="4" height="23" fill="#fff"/>
<path d="M322.5 211V236"/>
<rect x="320" y="218" width="5" height="13" fill="#000" stroke="none"/>
<path d="M330.5 212V271"/>
<rect x="328.5" y="218.5" width="4" height="12" fill="#fff"/>
<path d="M338.5 223V230"/>
<rect x="336" y="223" width="5" height="3" fill="#000" stroke="none"/>
<path d="M346.5 214V250"/>
<rect x="344" y="225" width="5" height="12" fill="#000" stroke="none"/>
<path d="M354.5 144V240"/>
<rect x="352.5" y="145.5" width="4" height="90" fill="#fff"/>
<path d="M362.5 129V175"/>
<rect x="360.5" y="132.5" width="4" height="14" fill="#fff"/>
<path d="M370.5 118V161"/>
<rect x="368.5" y="122.5" width="4" height="10" fill="#fff"/>
<path d="M378.5 71V130"/>
<rect x="376.5" y="88.5" width="4" height="34" fill="#fff"/>
<path d="M386.5 84V93"/>
<rect x="384.5" y="87.5" width="4" height="2" fill="#fff"/>
<path d="M394.5 87V188"/>
<rect x="392" y="87" width="5" height="87" fill="#000" stroke="none"/>
<path d="M402.5 174V232"/>
<rect x="400" y="175" width="5" height="45" fill="#000" stroke="none"/>
<path d="M410.5 213V284"/>
<rect x="408" y="218" width="5" height="59" fill="#000" stroke="none"/>
<path d="M418.5 259V308"/>
<rect x="416" y="276" width="5" height="15" fill="#000" stroke="none"/>
<path d="M426.5 236V307"/>
<rect x="424.5" y="244.5" width="4" height="45" fill="#fff"/>
<path d="M434.5 242V256"/>
<rect x="432" y="243" width="5" height="11" fill="#000" stroke="none"/>
<path d="M442.5 240V277"/>
<rect x="440.5" y="241.5" width="4" height="10" fill="#fff"/>
<path d="M450.5 230V262"/>
<rect x="448" y="240" width="5" height="8" fill="#000" stroke="none"/>
<path d="M458.5 244V287"/>
<rect x="456" y="247" width="5" height="39" fill="#000" stroke="none"/>
<path d="M466.5 267V301"/>
<rect x="464.5" y="276.5" width="4" height="9" fill="#fff"/>
<path d="M474.5 273V294"/>
<rect x="472" y="276" width="5" height="10" fill="#000" stroke="none"/>
<path d="M482.5 284V292"/>
<path d="M480 288.5H485"/>
<path d="M490.5 275V293"/>
<rect x="488.5" y="284.5" width="4" height="3" fill="#fff"/>
<path d="M498.5 260V344"/>
<rect x="496" y="284" width="5" height="34" fill="#000" stroke="none"/>
<path d="M506.5 266V321"/>
<rect x="504.5" y="274.5" width="4" height="44" fill="#fff"/>
<path d="M514.5 243V276"/>
<rect x="512.5" y="266.5" width="4" height="8" fill="#fff"/>
<path d="M522.5 251V291"/>
<rect x="520.5" y="262.5" width="4" height="3" fill="#fff"/>
<path d="M530.5 260V267"/>
<rect x="528.5" y="261.5" width="4" height="2" fill="#fff"/>
<path d="M538.5 212V274"/>
<rect x="536.5" y="234.5" width="4" height="26" fill="#fff"/>
<path d="M546.5 204V240"/>
<rect x="544.5" y="205.5" width="4" height="29" fill="#fff"/>
<path d="M554.5 192V253"/>
<rect x="552" y="205" width="5" height="45" fill="#000" stroke="none"/>
<path d="M562.5 224V253"/>
<rect x="560.5" y="240.5" width="4" height="9" fill="#fff"/>
<path d="M570.5 235V246"/>
<path d="M568 240.5H573"/>
<path d="M578.5 233V238"/>
<rect x="576.5" y="234.5" width="4" height="3" fill="#fff"/>
<path d="M586.5 220V259"/>
<rect x="584" y="233" width="5" height="18" fill="#000" stroke="none"/>
<path d="M594.5 219V259"/>
<rect x="592.5" y="235.5" width="4" height="14" fill="#fff"/>
<path d="M602.5 225V262"/>
<rect x="600" y="235" width="5" height="22" fill="#000" stroke="none"/>
<path d="M610.5 247V270"/>
<rect x="608" y="256" width="5" height="4" fill="#000" stroke="none"/>
<path d="M618.5 257V302"/>
<rect x="616" y="259" width="5" height="23" fill="#000" stroke="none"/>
<path d="M626.5 282V288"/>
<rect x="624.5" y="282.5" width="4" height="2" fill="#fff"/>
<path d="M634.5 253V292"/>
<rect x="632.5" y="256.5" width="4" height="25" fill="#fff"/>
<path d="M642.5 246V269"/>
<rect x="640" y="256" width="5" height="3" fill="#000" stroke="none"/>
<path d="M650.5 254V301"/>
<rect x="648" y="259" width="5" height="25" fill="#000" stroke="none"/>
<path d="M658.5 247V289"/>
<rect x="656.5" y="256.5" width="4" height="28" fill="#fff"/>
<path d="M666.5 250V281"/>
<rect x="664" y="255" width="5" height="25" fill="#000" stroke="none"/>
<path d="M674.5 268V276"/>
<rect x="672.5" y="268.5" width="4" height="6" fill="#fff"/>
<path d="M682.5 238V274"/>
<rect x="680.5" y="262.5" width="4" height="6" fill="#fff"/>
<path d="M690.5 250V300"/>
<rect x="688" y="263" width="5" height="27" fill="#000" stroke="none"/>
<path d="M698.5 255V298"/>
<rect x="696.5" y="263.5" width="4" height="25" fill="#fff"/>
<path d="M706.5 260V297"/>
<rect x="704" y="264" width="5" height="24" fill="#000" stroke="none"/>
<path d="M714.5 287V372"/>
<rect x="712" y="288" width="5" height="60" fill="#000" stroke="none"/>
<path d="M722.5 345V352"/>
<path d="M720 348.5H725"/>
<path d="M730.5 344V413"/>
<rect x="728" y="348" width="5" height="52" fill="#000" stroke="none"/>
<path d="M738.5 371V424"/>
<rect x="736" y="400" width="5" height="13" fill="#000" stroke="none"/>
<path d="M746.5 402V437"/>
<rect x="744" y="412" width="5" height="6" fill="#000" stroke="none"/>
<path d="M754.5 399V446"/>
<rect x="752" y="417" width="5" height="26" fill="#000" stroke="none"/>
<path d="M762.5 344V478"/>
<rect x="760.5" y="366.5" width="4" height="76" fill="#fff"/>
<path d="M770.5 356V365"/>
<rect x="768.5" y="357.5" width="4" height="6" fill="#fff"/>
<path d="M778.5 314V379"/>
<rect x="776.5" y="346.5" width="4" height="13" fill="#fff"/>
<path d="M786.5 334V377"/>
<rect x="784" y="346" width="5" height="30" fill="#000" stroke="none"/>
<path d="M794.5 357V398"/>
<rect x="792" y="375" width="5" height="6" fill="#000" stroke="none"/>
<path d="M802.5 370V399"/>
<path d="M800 378.5H805"/>
<path d="M810.5 344V386"/>
<rect x="808.5" y="352.5" width="4" height="26" fill="#fff"/>
<path d="M818.5 354V360"/>
<rect x="816" y="354" width="5" height="5" fill="#000" stroke="none"/>
<path d="M826.5 333V369"/>
<rect x="824.5" y="348.5" width="4" height="11" fill="#fff"/>
<path d="M834.5 299V354"/>
<rect x="832.5" y="313.5" width="4" height="34" fill="#fff"/>
<path d="M842.5 275V316"/>
<rect x="840.5" y="287.5" width="4" height="26" fill="#fff"/>
<path d="M850.5 273V308"/>
<rect x="848.5" y="278.5" width="4" height="10" fill="#fff"/>
<path d="M858.5 273V318"/>
<rect x="856" y="278" width="5" height="31" fill="#000" stroke="none"/>
<path d="M866.5 304V310"/>
<rect x="864" y="306" width="5" height="3" fill="#000" stroke="none"/>
<path d="M874.5 301V353"/>
<rect x="872" y="307" width="5" height="41" fill="#000" stroke="none"/>
<path d="M882.5 348V406"/>
<rect x="880" y="348" width="5" height="56" fill="#000" stroke="none"/>
<path d="M890.5 337V413"/>
<rect x="888.5" y="343.5" width="4" height="58" fill="#fff"/>
<path d="M898.5 332V374"/>
<rect x="896" y="343" width="5" height="28" fill="#000" stroke="none"/>
<path d="M906.5 343V388"/>
<rect x="904.5" y="361.5" width="4" height="9" fill="#fff"/>
<path d="M914.5 356V361"/>
<rect x="912" y="356" width="5" height="2" fill="#000" stroke="none"/>
<path d="M922.5 348V371"/>
<rect x="920.5" y="348.5" width="4" height="8" fill="#fff"/>
<path d="M930.5 306V358"/>
<rect x="928.5" y="320.5" width="4" height="27" fill="#fff"/>
<path d="M938.5 308V361"/>
<rect x="936" y="319" width="5" height="39" fill="#000" stroke="none"/>
<path d="M946.5 298V378"/>
<rect x="944.5" y="301.5" width="4" height="57" fill="#fff"/>
<path d="M954.5 280V406"/>
<rect x="952" y="300" width="5" height="92" fill="#000" stroke="none"/>
<path d="M962.5 373V387"/>
<rect x="960" y="373" width="5" height="9" fill="#000" stroke="none"/>
<path d="M970.5 342V400"/>
<rect x="968.5" y="348.5" width="4" height="34" fill="#fff"/>
<path d="M978.5 337V378"/>
<rect x="976" y="349" width="5" height="7" fill="#000" stroke="none"/>
<path d="M986.5 326V360"/>
<rect x="984.5" y="334.5" width="4" height="22" fill="#fff"/>
<path d="M994.5 308V349"/>
<rect x="992" y="333" width="5" height="9" fill="#000" stroke="none"/>
<path d="M1002.5 312V344"/>
<rect x="1000.5" y="334.5" width="4" height="7" fill="#fff"/>
<path d="M1010.5 325V332"/>
<rect x="1008.5" y="325.5" width="4" height="2" fill="#fff"/>
<path d="M1018.5 320V339"/>
<path d="M1016 326.5H1021"/>
<path d="M1026.5 320V361"/>
<rect x="1024" y="326" width="5" height="24" fill="#000" stroke="none"/>
<path d="M1034.5 328V364"/>
<rect x="1032.5" y="331.5" width="4" height="20" fill="#fff"/>
<path d="M1042.5 326V350"/>
<rect x="1040" y="331" width="5" height="7" fill="#000" stroke="none"/>
<path d="M1050.5 329V345"/>
<rect x="1048" y="337" width="5" height="3" fill="#000" stroke="none"/>
<path d="M1058.5 337V341"/>
<rect x="1056.5" y="338.5" width="4" height="2" fill="#fff"/>
<path d="M1066.5 336V381"/>
<rect x="1064" y="337" width="5" height="32" fill="#000" stroke="none"/>
<path d="M1074.5 361V399"/>
<rect x="1072" y="367" width="5" height="25" fill="#000" stroke="none"/>
<path d="M1082.5 391V434"/>
<rect x="1080" y="391" width="5" height="25" fill="#000" stroke="none"/>
<path d="M1090.5 407V455"/>
<rect x="1088" y="416" width="5" height="27" fill="#000" stroke="none"/>
<path d="M1098.5 429V473"/>
<rect x="1096" y="441" width="5" height="12" fill="#000" stroke="none"/>
<path d="M1106.5 454V458"/>
<rect x="1104.5" y="454.5" width="4" height="2" fill="#fff"/>
<path d="M1114.5 431V493"/>
<rect x="1112.5" y="442.5" width="4" height="11" fill="#fff"/>
<path d="M1122.5 414V464"/>
<rect x="1120.5" y="416.5" width="4" height="26" fill="#fff"/>
<path d="M1130.5 384V426"/>
<rect x="1128.5" y="398.5" width="4" height="17" fill="#fff"/>
<path d="M1138.5 382V405"/>
<rect x="1136.5" y="388.5" width="4" height="9" fill="#fff"/>
<path d="M1146.5 370V404"/>
<rect x="1144.5" y="378.5" width="4" height="9" fill="#fff"/>
<path d="M1154.5 377V380"/>
<rect x="1152" y="378" width="5" height="2" fill="#000" stroke="none"/>
<path d="M1162.5 372V402"/>
<rect x="1160" y="378" width="5" height="11" fill="#000" stroke="none"/>
<path d="M1170.5 367V396"/>
<rect x="1168.5" y="371.5" width="4" height="16" fill="#fff"/>
<path d="M1178.5 362V392"/>
<rect x="1176" y="371" width="5" height="18" fill="#000" stroke="none"/>
<path d="M1186.5 368V391"/>
<rect x="1184.5" y="380.5" width="4" height="7" fill="#fff"/>
<path d="M1194.5 372V425"/>
<rect x="1192" y="380" width="5" height="13" fill="#000" stroke="none"/>
<path d="M1202.5 377V385"/>
<path d="M1200 383.5H1205"/>
<path d="M1210.5 363V385"/>
<rect x="1208.5" y="369.5" width="4" height="14" fill="#fff"/>
<path d="M1218.5 366V387"/>
<rect x="1216" y="369" width="5" height="5" fill="#000" stroke="none"/>
<path d="M1226.5 340V375"/>
<rect x="1224.5" y="350.5" width="4" height="24" fill="#fff"/>
<path d="M1234.5 340V354"/>
<rect x="1232.5" y="346.5" width="4" height="4" fill="#fff"/>
<path d="M1242.5 346V376"/>
<rect x="1240" y="346" width="5" height="30" fill="#000" stroke="none"/>
<path d="M1250.5 373V377"/>
<path d="M1248 374.5H1253"/>
<path d="M1258.5 372V404"/>
<rect x="1256" y="375" width="5" height="21" fill="#000" stroke="none"/>
<path d="M1266.5 375V401"/>
<rect x="1264.5" y="386.5" width="4" height="8" fill="#fff"/>
<path d="M1274.5 383V418"/>
<rect x="1272" y="386" width="5" height="24" fill="#000" stroke="none"/>
<path d="M1282.5 386V412"/>
<rect x="1280.5" y="394.5" width="4" height="15" fill="#fff"/>
<path d="M1290.5 388V407"/>
<rect x="1288.5" y="390.5" width="4" height="3" fill="#fff"/>
<path d="M1298.5 386V392"/>
<rect x="1296.5" y="390.5" width="4" height="2" fill="#fff"/>
<path d="M1306.5 384V399"/>
<rect x="1304.5" y="387.5" width="4" height="2" fill="#fff"/>
<path d="M1314.5 366V391"/>
<rect x="1312.5" y="385.5" width="4" height="2" fill="#fff"/>
<path d="M1322.5 385V468"/>
<rect x="1320" y="385" width="5" height="59" fill="#000" stroke="none"/>
<path d="M1330.5 424V458"/>
<rect x="1328.5" y="428.5" width="4" height="14" fill="#fff"/>
<path d="M1338.5 426V453"/>
<rect x="1336" y="426" width="5" height="13" fill="#000" stroke="none"/>
<path d="M1346.5 438V442"/>
<rect x="1344" y="441" width="5" height="1" fill="#000" stroke="none"/>
<path d="M1354.5 416V446"/>
<rect x="1352.5" y="432.5" width="4" height="8" fill="#fff"/>
<path d="M1362.5 432V463"/>
<rect x="1360" y="432" width="5" height="21" fill="#000" stroke="none"/>
<path d="M1370.5 452V485"/>
<rect x="1368" y="453" width="5" height="16" fill="#000" stroke="none"/>
<path d="M1378.5 440V491"/>
<rect x="1376.5" y="452.5" width="4" height="16" fill="#fff"/>
<path d="M1386.5 438V484"/>
<rect x="1384.5" y="442.5" width="4" height="9" fill="#fff"/>
<path d="M1394.5 442V452"/>
<rect x="1392" y="446" width="5" height="5" fill="#000" stroke="none"/>
<path d="M1402.5 424V450"/>
<rect x="1400.5" y="441.5" width="4" height="7" fill="#fff"/>
<path d="M1410.5 433V463"/>
<rect x="1408" y="440" width="5" height="14" fill="#000" stroke="none"/>
<path d="M1418.5 395V482"/>
<rect x="1416" y="453" width="5" height="8" fill="#000" stroke="none"/>
<path d="M1426.5 458V531"/>
<rect x="1424" y="462" width="5" height="59" fill="#000" stroke="none"/>
<path d="M1434.5 509V552"/>
<rect x="1432" y="521" width="5" height="27" fill="#000" stroke="none"/>
</g>
<rect x="1679.5" y="511.5" width="4" height="4" fill="#fff" stroke="#ff0000" shape-rendering="crispEdges"/>
<rect x="1679.5" y="531.5" width="4" height="4" fill="#fff" stroke="#32cd32" shape-rendering="crispEdges"/>
<rect x="1679.5" y="573.5" width="4" height="4" fill="#fff" stroke="#0000ff" shape-rendering="crispEdges"/>
<path d="M1253.5 354L1454 558" stroke="#ff0000" stroke-width="3" stroke-linecap="round"/>
<path d="M1460.5 566.5L1450 561L1456.5 554.5Z" fill="#ff0000" stroke="#ff0000" stroke-width="1.2" stroke-linejoin="round"/>
<rect x="1358" y="531" width="126" height="7" fill="#00ff00"/>
<rect x="883.5" y="269.5" width="61" height="18" fill="none" stroke="#ff0000" shape-rendering="crispEdges"/><text x="885.2" y="285" font-size="16.5" fill="#ff0000" textLength="58.6" lengthAdjust="spacingAndGlyphs">106.959</text>
<path d="M945 278.5H955" stroke="#ff0000" shape-rendering="crispEdges"/>
<rect x="1155.5" y="333.5" width="61" height="18" fill="none" stroke="#ff0000" shape-rendering="crispEdges"/><text x="1157.4" y="349" font-size="16.5" fill="#ff0000" textLength="58" lengthAdjust="spacingAndGlyphs">106.070</text>
<path d="M1217 342.5H1226" stroke="#ff0000" shape-rendering="crispEdges"/>
<rect x="670.5" y="465.5" width="74" height="24" fill="none" stroke="#ff0000" shape-rendering="crispEdges"/><text x="672.4" y="486" font-size="22.2" fill="#ff0000" textLength="71.4" lengthAdjust="spacingAndGlyphs">104.194</text>
<path d="M745 477.5H755" stroke="#ff0000" shape-rendering="crispEdges"/>
<rect x="1035.5" y="484.5" width="61" height="18" fill="none" stroke="#ff0000" shape-rendering="crispEdges"/><text x="1037.4" y="500" font-size="16.5" fill="#ff0000" textLength="58" lengthAdjust="spacingAndGlyphs">103.982</text>
<rect x="1237.5" y="521.5" width="73" height="24" fill="none" stroke="#ff0000" shape-rendering="crispEdges"/><text x="1238.6" y="542.5" font-size="22.2" fill="#ff0000" textLength="71" lengthAdjust="spacingAndGlyphs">103.426</text>
<path d="M1224 533.5H1234" stroke="#ff0000" shape-rendering="crispEdges"/><rect x="1234.5" y="531.5" width="3" height="3" fill="#fff" stroke="#ff0000" shape-rendering="crispEdges"/>
<rect x="1499.5" y="512.5" width="110" height="24" fill="none" stroke="#404040" shape-rendering="crispEdges"/>
<path d="M1509.8 514.5 L1501.8 520.4 M1507.4 517.3 L1516.4 517.3 L1506.5 524.0 M1507.7 518.5 L1509.5 521.6 M1508.4 522.1 L1501.5 524.8 M1509.4 525.2 L1517.4 525.2 L1502.2 532.5 M1507.7 527.7 L1509.4 529.4 M1530.2 514.5 L1531.6 516.2 M1523.3 519.4 L1524.3 517.3 L1539.9 517.3 L1538.9 519.0 M1529.2 519.6 L1523.0 523.9 M1533.0 519.6 L1538.9 522.5 M1525.4 524.5 L1537.8 524.5 M1531.3 524.5 L1531.3 531.3 M1522.5 531.5 L1540.6 531.5 M1544.3 517.3 L1551.7 517.3 M1548.9 514.5 L1545.5 522.8 L1550.7 522.8 M1548.9 520.4 L1548.9 532.9 M1544.3 528.4 L1552.7 526.3 M1553.0 518.7 L1561.7 517.6 M1552.0 522.5 L1562.7 521.8 M1557.5 514.5 L1554.8 524.9 L1560.7 525.2 L1557.2 529.4 M1554.1 528.7 L1559.3 532.2 M1566.5 519.4 L1573.1 518.7 M1570.7 514.5 L1570.7 531.5 L1567.2 531.1 M1566.5 525.2 L1573.5 522.1 M1583.2 514.8 L1575.9 516.6 M1575.9 516.6 L1575.9 523.9 L1571.4 532.5 M1576.2 521.4 L1584.9 521.4 M1580.7 521.4 L1580.7 532.9 M1597.4 514.3 L1597.4 521.1 M1597.4 517.3 L1605.7 517.3 M1591.8 521.1 L1603.3 521.1 L1603.3 526.3 L1591.8 526.3 L1591.8 521.1 M1591.8 526.3 L1591.8 531.0 M1591.1 529.7 L1589.8 531.5 M1594.6 529.4 L1596.0 531.5 M1599.5 529.7 L1600.8 531.5 M1604.3 529.4 L1606.0 531.5 " fill="none" stroke="#00ff00" stroke-width="1.3" stroke-linecap="square"/>
<rect x="1552.5" y="509.5" width="2" height="2" fill="#fff" stroke="#00ff00" shape-rendering="crispEdges"/>
</g>
<path d="M1442 29H1451L1446.5 34Z" fill="#a0a0a0"/>
<path d="M0 34L5 39H0Z" fill="#000"/>
<text x="9" y="40" class="ax" style="letter-spacing:-0.3px">USDJPY-,Daily</text>
<text x="79" y="40" class="ax" textLength="141.5" lengthAdjust="spacingAndGlyphs" style="letter-spacing:0">103.587 103.753 103.169 103.219</text>
<rect x="0" y="48" width="48" height="24" fill="url(#gtab)"/>
<rect x="164" y="48" width="52" height="24" fill="url(#gtab)"/>
<rect x="48" y="48" width="116" height="24" fill="#fff"/>
<rect x="52.5" y="48.5" width="109" height="22" fill="#fff" stroke="#a8a8a8" shape-rendering="crispEdges"/>
<rect x="53" y="49" width="19" height="21" fill="url(#gbtn)"/><rect x="72" y="49" width="1" height="21" fill="#b0b0b0"/>
<rect x="142" y="49" width="19" height="21" fill="url(#gbtn)"/><rect x="141" y="49" width="1" height="21" fill="#b0b0b0"/>
<path d="M59.5 57H64.5L62 60Z" fill="#5a6ab8"/><path d="M148.5 60H153.5L151 57Z" fill="#5a6ab8"/>
<text x="137" y="64" font-size="12" text-anchor="end" fill="#000" letter-spacing="-0.3">1.00</text>
<rect x="1" y="71" width="44" height="1" fill="#8a0000"/><rect x="168" y="71" width="44" height="1" fill="#8a0000"/>
<rect x="0" y="72" width="106" height="40" fill="url(#gpx)"/>
<rect x="108" y="72" width="108" height="40" fill="url(#gpx)"/>
<text x="9" y="64" font-size="11.5" fill="#fff">SELL</text>
<text x="176" y="64" font-size="11.5" fill="#fff">BUY</text>
<text x="19.8" y="103" font-size="12.5" font-weight="bold" fill="#fff" textLength="21.5" lengthAdjust="spacingAndGlyphs">103</text>
<text x="44.6" y="103" font-size="33.5" fill="#fff" textLength="35" lengthAdjust="spacingAndGlyphs">21</text>
<text x="83.4" y="87" font-size="11" font-weight="bold" fill="#fff">9</text>
<text x="129.6" y="103" font-size="12.5" font-weight="bold" fill="#fff" textLength="21.5" lengthAdjust="spacingAndGlyphs">103</text>
<text x="155.2" y="103" font-size="33.5" fill="#fff" textLength="36" lengthAdjust="spacingAndGlyphs">23</text>
<text x="194.4" y="87" font-size="11" font-weight="bold" fill="#fff">9</text>
<rect x="1685" y="50" width="2" height="1" fill="#000"/>
<text x="1690" y="53.5" class="ax">110.130</text>
<rect x="1685" y="83" width="2" height="1" fill="#000"/>
<text x="1690" y="86.5" class="ax">109.670</text>
<rect x="1685" y="116" width="2" height="1" fill="#000"/>
<text x="1690" y="119.5" class="ax">109.220</text>
<rect x="1685" y="149" width="2" height="1" fill="#000"/>
<text x="1690" y="152.5" class="ax">108.760</text>
<rect x="1685" y="182" width="2" height="1" fill="#000"/>
<text x="1690" y="185.5" class="ax">108.300</text>
<rect x="1685" y="215" width="2" height="1" fill="#000"/>
<text x="1690" y="218.5" class="ax">107.840</text>
<rect x="1685" y="248" width="2" height="1" fill="#000"/>
<text x="1690" y="251.5" class="ax">107.380</text>
<rect x="1685" y="281" width="2" height="1" fill="#000"/>
<text x="1690" y="284.5" class="ax">106.920</text>
<rect x="1685" y="314" width="2" height="1" fill="#000"/>
<text x="1690" y="317.5" class="ax">106.460</text>
<rect x="1685" y="347" width="2" height="1" fill="#000"/>
<text x="1690" y="350.5" class="ax">106.000</text>
<rect x="1685" y="380" width="2" height="1" fill="#000"/>
<text x="1690" y="383.5" class="ax">105.550</text>
<rect x="1685" y="413" width="2" height="1" fill="#000"/>
<text x="1690" y="416.5" class="ax">105.090</text>
<rect x="1685" y="446" width="2" height="1" fill="#000"/>
<text x="1690" y="449.5" class="ax">104.630</text>
<rect x="1685" y="479" width="2" height="1" fill="#000"/>
<text x="1690" y="482.5" class="ax">104.170</text>
<rect x="1685" y="578" width="2" height="1" fill="#000"/><text x="1690" y="582" class="ax">102.790</text>
<rect x="1686" y="487" width="41" height="11" fill="#ff0000"/>
<text x="1690" y="496" class="ax" style="fill:#fff">103.982</text>
<rect x="1686" y="507" width="41" height="11" fill="#ff0000"/>
<text x="1690" y="516" class="ax" style="fill:#fff">103.704</text>
<rect x="1686" y="527" width="41" height="11" fill="#32cd32"/>
<text x="1690" y="536" class="ax" style="fill:#fff">103.426</text>
<rect x="1686" y="542" width="41" height="11" fill="#000000"/>
<text x="1690" y="551" class="ax" style="fill:#fff">103.219</text>
<rect x="1686" y="554" width="41" height="11" fill="#0000ff"/>
<text x="1690" y="563" class="ax" style="fill:#fff">103.042</text>
<rect x="1686" y="569" width="41" height="11" fill="#0000ff"/>
<text x="1690" y="578" class="ax" style="fill:#fff">102.843</text>
<rect x="1685" y="585" width="2" height="1" fill="#000"/><text x="1688" y="594" class="ax">0.5592</text>
<rect x="1685" y="663" width="2" height="1" fill="#000"/><text x="1688" y="666.5" class="ax">0.00</text>
<rect x="1685" y="752" width="2" height="1" fill="#000"/><text x="1687.5" y="750" class="ax">-0.6387</text>
<rect x="1685" y="757" width="2" height="1" fill="#000"/><text x="1688" y="766" class="ax">100</text>
<rect x="1685" y="791" width="2" height="1" fill="#000"/><text x="1687" y="794.5" class="ax">80</text>
<rect x="1685" y="842" width="2" height="1" fill="#000"/><text x="1687" y="845.5" class="ax">50</text>
<rect x="1685" y="903" width="2" height="1" fill="#000"/><text x="1687" y="906.5" class="ax">15</text>
<text x="1688" y="927" class="ax">0</text>
<g clip-path="url(#cmacd)">
<g shape-rendering="crispEdges" stroke="#c0c0c0">
<path d="M2.5 663V655"/>
<path d="M10.5 663V665"/>
<path d="M18.5 663V679"/>
<path d="M26.5 663V684"/>
<path d="M34.5 663V684"/>
<path d="M42.5 663V688"/>
<path d="M50.5 663V689"/>
<path d="M58.5 663V690"/>
<path d="M66.5 663V690"/>
<path d="M74.5 663V689"/>
<path d="M82.5 663V689"/>
<path d="M90.5 663V692"/>
<path d="M98.5 663V693"/>
<path d="M106.5 663V695"/>
<path d="M114.5 663V703"/>
<path d="M122.5 663V710"/>
<path d="M130.5 663V708"/>
<path d="M138.5 663V710"/>
<path d="M146.5 663V713"/>
<path d="M154.5 663V715"/>
<path d="M162.5 663V719"/>
<path d="M170.5 663V723"/>
<path d="M178.5 663V725"/>
<path d="M186.5 663V722"/>
<path d="M194.5 663V716"/>
<path d="M202.5 663V703"/>
<path d="M210.5 663V698"/>
<path d="M218.5 663V696"/>
<path d="M226.5 663V689"/>
<path d="M234.5 663V684"/>
<path d="M242.5 663V681"/>
<path d="M250.5 663V676"/>
<path d="M258.5 663V668"/>
<path d="M266.5 663V663"/>
<path d="M274.5 663V659"/>
<path d="M282.5 663V657"/>
<path d="M290.5 663V653"/>
<path d="M298.5 663V651"/>
<path d="M306.5 663V652"/>
<path d="M314.5 663V649"/>
<path d="M322.5 663V649"/>
<path d="M330.5 663V647"/>
<path d="M338.5 663V647"/>
<path d="M346.5 663V649"/>
<path d="M354.5 663V636"/>
<path d="M362.5 663V625"/>
<path d="M370.5 663V614"/>
<path d="M378.5 663V602"/>
<path d="M386.5 663V592"/>
<path d="M394.5 663V599"/>
<path d="M402.5 663V612"/>
<path d="M410.5 663V632"/>
<path d="M418.5 663V650"/>
<path d="M426.5 663V657"/>
<path d="M434.5 663V664"/>
<path d="M442.5 663V668"/>
<path d="M450.5 663V671"/>
<path d="M458.5 663V680"/>
<path d="M466.5 663V685"/>
<path d="M474.5 663V691"/>
<path d="M482.5 663V695"/>
<path d="M490.5 663V697"/>
<path d="M498.5 663V704"/>
<path d="M506.5 663V702"/>
<path d="M514.5 663V698"/>
<path d="M522.5 663V695"/>
<path d="M530.5 663V691"/>
<path d="M538.5 663V684"/>
<path d="M546.5 663V674"/>
<path d="M554.5 663V673"/>
<path d="M562.5 663V670"/>
<path d="M570.5 663V668"/>
<path d="M578.5 663V665"/>
<path d="M586.5 663V666"/>
<path d="M594.5 663V664"/>
<path d="M602.5 663V666"/>
<path d="M610.5 663V667"/>
<path d="M618.5 663V672"/>
<path d="M626.5 663V676"/>
<path d="M634.5 663V674"/>
<path d="M642.5 663V674"/>
<path d="M650.5 663V677"/>
<path d="M658.5 663V675"/>
<path d="M666.5 663V677"/>
<path d="M674.5 663V677"/>
<path d="M682.5 663V675"/>
<path d="M690.5 663V678"/>
<path d="M698.5 663V676"/>
<path d="M706.5 663V678"/>
<path d="M714.5 663V689"/>
<path d="M722.5 663V698"/>
<path d="M730.5 663V712"/>
<path d="M738.5 663V724"/>
<path d="M746.5 663V734"/>
<path d="M754.5 663V744"/>
<path d="M762.5 663V740"/>
<path d="M770.5 663V734"/>
<path d="M778.5 663V727"/>
<path d="M786.5 663V726"/>
<path d="M794.5 663V725"/>
<path d="M802.5 663V723"/>
<path d="M810.5 663V716"/>
<path d="M818.5 663V712"/>
<path d="M826.5 663V706"/>
<path d="M834.5 663V696"/>
<path d="M842.5 663V683"/>
<path d="M850.5 663V672"/>
<path d="M858.5 663V667"/>
<path d="M866.5 663V664"/>
<path d="M874.5 663V667"/>
<path d="M882.5 663V678"/>
<path d="M890.5 663V678"/>
<path d="M898.5 663V681"/>
<path d="M906.5 663V682"/>
<path d="M914.5 663V682"/>
<path d="M922.5 663V681"/>
<path d="M930.5 663V675"/>
<path d="M938.5 663V676"/>
<path d="M946.5 663V668"/>
<path d="M954.5 663V676"/>
<path d="M962.5 663V680"/>
<path d="M970.5 663V678"/>
<path d="M978.5 663V677"/>
<path d="M986.5 663V673"/>
<path d="M994.5 663V671"/>
<path d="M1002.5 663V668"/>
<path d="M1010.5 663V665"/>
<path d="M1018.5 663V662"/>
<path d="M1026.5 663V664"/>
<path d="M1034.5 663V662"/>
<path d="M1042.5 663V662"/>
<path d="M1050.5 663V662"/>
<path d="M1058.5 663V661"/>
<path d="M1066.5 663V666"/>
<path d="M1074.5 663V673"/>
<path d="M1082.5 663V682"/>
<path d="M1090.5 663V693"/>
<path d="M1098.5 663V703"/>
<path d="M1106.5 663V711"/>
<path d="M1114.5 663V714"/>
<path d="M1122.5 663V713"/>
<path d="M1130.5 663V708"/>
<path d="M1138.5 663V702"/>
<path d="M1146.5 663V695"/>
<path d="M1154.5 663V690"/>
<path d="M1162.5 663V687"/>
<path d="M1170.5 663V682"/>
<path d="M1178.5 663V680"/>
<path d="M1186.5 663V677"/>
<path d="M1194.5 663V677"/>
<path d="M1202.5 663V675"/>
<path d="M1210.5 663V671"/>
<path d="M1218.5 663V669"/>
<path d="M1226.5 663V663"/>
<path d="M1234.5 663V658"/>
<path d="M1242.5 663V659"/>
<path d="M1250.5 663V659"/>
<path d="M1258.5 663V663"/>
<path d="M1266.5 663V664"/>
<path d="M1274.5 663V669"/>
<path d="M1282.5 663V670"/>
<path d="M1290.5 663V670"/>
<path d="M1298.5 663V670"/>
<path d="M1306.5 663V670"/>
<path d="M1314.5 663V669"/>
<path d="M1322.5 663V678"/>
<path d="M1330.5 663V682"/>
<path d="M1338.5 663V686"/>
<path d="M1346.5 663V690"/>
<path d="M1354.5 663V691"/>
<path d="M1362.5 663V695"/>
<path d="M1370.5 663V700"/>
<path d="M1378.5 663V701"/>
<path d="M1386.5 663V700"/>
<path d="M1394.5 663V700"/>
<path d="M1402.5 663V698"/>
<path d="M1410.5 663V698"/>
<path d="M1418.5 663V698"/>
<path d="M1426.5 663V708"/>
<path d="M1434.5 663V719"/>
</g>
<polyline points="2.5,659.5 10.5,658.8 18.5,660.1 26.5,662.2 34.5,664.7 42.5,667.9 50.5,671.7 58.5,675.9 66.5,680.5 74.5,684.2 82.5,686.9 90.5,688.4 98.5,689.4 106.5,690.6 114.5,692.3 122.5,694.6 130.5,696.6 138.5,698.8 146.5,701.5 154.5,704.3 162.5,707.3 170.5,710.7 178.5,714.0 186.5,716.1 194.5,716.8 202.5,716.3 210.5,714.9 218.5,713.0 226.5,710.1 234.5,706.3 242.5,701.6 250.5,696.2 258.5,690.2 266.5,684.3 274.5,679.4 282.5,674.9 290.5,670.2 298.5,666.0 306.5,662.4 314.5,658.9 322.5,655.9 330.5,653.6 338.5,651.7 346.5,650.6 354.5,648.2 362.5,645.0 370.5,640.9 378.5,635.3 386.5,629.0 394.5,623.5 402.5,619.6 410.5,618.0 418.5,618.1 426.5,620.5 434.5,624.9 442.5,630.8 450.5,638.5 458.5,648.3 466.5,657.9 474.5,666.6 482.5,673.5 490.5,678.7 498.5,683.9 506.5,688.1 514.5,691.5 522.5,694.1 530.5,695.3 538.5,695.2 546.5,693.3 554.5,690.9 562.5,687.9 570.5,683.9 578.5,679.9 586.5,676.3 594.5,672.8 602.5,670.0 610.5,668.1 618.5,667.9 626.5,668.2 634.5,668.7 642.5,669.3 650.5,670.6 658.5,671.6 666.5,673.0 674.5,674.3 682.5,675.1 690.5,675.8 698.5,675.9 706.5,676.3 714.5,678.1 722.5,680.4 730.5,684.5 738.5,689.7 746.5,696.1 754.5,703.8 762.5,710.6 770.5,717.1 778.5,722.5 786.5,726.6 794.5,729.6 802.5,730.8 810.5,730.0 818.5,727.5 826.5,723.3 834.5,718.4 842.5,712.7 850.5,706.5 858.5,700.0 866.5,693.2 874.5,687.1 882.5,682.9 890.5,679.1 898.5,676.3 906.5,674.8 914.5,674.7 922.5,675.7 930.5,676.5 938.5,677.8 946.5,677.9 954.5,677.6 962.5,677.8 970.5,677.5 978.5,676.9 986.5,675.9 994.5,674.9 1002.5,674.2 1010.5,672.9 1018.5,672.3 1026.5,670.9 1034.5,668.9 1042.5,667.1 1050.5,665.4 1058.5,664.1 1066.5,663.5 1074.5,664.0 1082.5,665.9 1090.5,669.4 1098.5,673.9 1106.5,679.3 1114.5,685.2 1122.5,690.8 1130.5,696.0 1138.5,700.0 1146.5,702.5 1154.5,703.3 1162.5,702.6 1170.5,700.2 1178.5,696.7 1186.5,692.6 1194.5,688.6 1202.5,684.9 1210.5,681.5 1218.5,678.5 1226.5,675.5 1234.5,672.3 1242.5,669.8 1250.5,667.4 1258.5,665.8 1266.5,664.4 1274.5,663.8 1282.5,663.7 1290.5,663.9 1298.5,664.7 1306.5,666.0 1314.5,667.2 1322.5,669.3 1330.5,671.3 1338.5,673.8 1346.5,676.1 1354.5,678.5 1362.5,681.2 1370.5,684.5 1378.5,688.0 1386.5,691.4 1394.5,693.8 1402.5,695.6 1410.5,696.9 1418.5,697.9 1426.5,699.7 1434.5,702.4" fill="none" stroke="#ff0000" stroke-dasharray="3 3" shape-rendering="crispEdges"/>
</g>
<text x="0" y="596" class="ax" style="letter-spacing:-0.4px">MACD(12,26,9) -0.4005 -0.2823</text>
<g clip-path="url(#crsi)">
<path d="M1 791.5H1684" stroke="#c0c0c0" stroke-dasharray="3 3" shape-rendering="crispEdges"/>
<path d="M1 842.5H1684" stroke="#c0c0c0" stroke-dasharray="3 3" shape-rendering="crispEdges"/>
<path d="M1 903.5H1684" stroke="#c0c0c0" stroke-dasharray="3 3" shape-rendering="crispEdges"/>
<polyline points="2.5,844.3 10.5,851.0 18.5,855.4 26.5,849.8 34.5,846.4 42.5,849.7 50.5,848.5 58.5,848.9 66.5,848.2 74.5,846.5 82.5,849.0 90.5,852.0 98.5,850.5 106.5,853.8 114.5,860.9 122.5,862.8 130.5,850.2 138.5,856.1 146.5,857.8 154.5,858.3 162.5,862.0 170.5,865.1 178.5,861.6 186.5,854.6 194.5,849.3 202.5,836.3 210.5,844.5 218.5,848.6 226.5,840.4 234.5,842.2 242.5,843.6 250.5,839.8 258.5,831.7 266.5,836.8 274.5,835.8 282.5,837.3 290.5,833.5 298.5,835.6 306.5,840.6 314.5,833.1 322.5,837.9 330.5,833.7 338.5,836.8 346.5,841.3 354.5,815.7 362.5,813.2 370.5,811.2 378.5,804.9 386.5,804.8 394.5,836.3 402.5,847.8 410.5,859.5 418.5,862.1 426.5,849.8 434.5,851.9 442.5,848.5 450.5,850.0 458.5,858.4 466.5,855.5 474.5,857.7 482.5,858.3 490.5,856.6 498.5,864.6 506.5,850.4 514.5,847.8 522.5,846.7 530.5,846.2 538.5,837.9 546.5,829.7 554.5,843.7 562.5,841.1 570.5,841.0 578.5,839.2 586.5,844.8 594.5,839.6 602.5,846.9 610.5,847.9 618.5,855.0 626.5,855.2 634.5,844.7 642.5,845.5 650.5,854.4 658.5,843.5 666.5,851.5 674.5,847.1 682.5,844.8 690.5,854.2 698.5,844.1 706.5,852.0 714.5,867.5 722.5,867.6 730.5,877.7 738.5,879.8 746.5,880.6 754.5,884.8 762.5,856.4 770.5,853.9 778.5,850.5 786.5,857.7 794.5,858.9 802.5,858.1 810.5,849.0 818.5,850.9 826.5,847.2 834.5,836.1 842.5,829.0 850.5,826.7 858.5,837.4 866.5,837.4 874.5,850.0 882.5,863.5 890.5,845.5 898.5,852.1 906.5,849.3 914.5,848.2 922.5,845.6 930.5,837.8 938.5,848.1 946.5,834.0 954.5,854.0 962.5,851.6 970.5,843.9 978.5,845.5 986.5,840.5 994.5,842.6 1002.5,840.4 1010.5,838.3 1018.5,838.6 1026.5,845.6 1034.5,840.1 1042.5,842.1 1050.5,842.9 1058.5,841.9 1066.5,851.9 1074.5,858.5 1082.5,864.5 1090.5,870.6 1098.5,872.7 1106.5,873.0 1114.5,867.5 1122.5,856.4 1130.5,849.4 1138.5,845.6 1146.5,841.9 1154.5,842.7 1162.5,846.2 1170.5,839.2 1178.5,846.2 1186.5,842.7 1194.5,847.9 1202.5,843.6 1210.5,837.8 1218.5,840.1 1226.5,830.3 1234.5,829.0 1242.5,842.9 1250.5,842.5 1258.5,851.3 1266.5,846.9 1274.5,856.4 1282.5,848.7 1290.5,846.8 1298.5,846.5 1306.5,845.2 1314.5,844.3 1322.5,867.9 1330.5,859.3 1338.5,863.2 1346.5,864.3 1354.5,858.6 1362.5,865.8 1370.5,871.0 1378.5,861.6 1386.5,856.2 1394.5,859.5 1402.5,853.9 1410.5,859.1 1418.5,861.8 1426.5,879.2 1434.5,884.9" fill="none" stroke="#1e90ff" shape-rendering="crispEdges"/>
</g>
<text x="0" y="768" class="ax" style="letter-spacing:-0.4px">RSI(14) 25.4137</text>
<text x="2" y="942" class="ax" style="letter-spacing:-0.3px">Apr 2020</text>
<rect x="58" y="930" width="1" height="2" fill="#000"/>
<text x="58" y="942" class="ax" style="letter-spacing:-0.3px">20 Apr 2020</text>
<rect x="122" y="930" width="1" height="2" fill="#000"/>
<text x="122" y="942" class="ax" style="letter-spacing:-0.3px">29 Apr 2020</text>
<rect x="186" y="930" width="1" height="2" fill="#000"/>
<text x="186" y="942" class="ax" style="letter-spacing:-0.3px">8 May 2020</text>
<rect x="250" y="930" width="1" height="2" fill="#000"/>
<text x="250" y="942" class="ax" style="letter-spacing:-0.3px">18 May 2020</text>
<rect x="314" y="930" width="1" height="2" fill="#000"/>
<text x="314" y="942" class="ax" style="letter-spacing:-0.3px">27 May 2020</text>
<rect x="378" y="930" width="1" height="2" fill="#000"/>
<text x="378" y="942" class="ax" style="letter-spacing:-0.3px">5 Jun 2020</text>
<rect x="442" y="930" width="1" height="2" fill="#000"/>
<text x="442" y="942" class="ax" style="letter-spacing:-0.3px">15 Jun 2020</text>
<rect x="506" y="930" width="1" height="2" fill="#000"/>
<text x="506" y="942" class="ax" style="letter-spacing:-0.3px">24 Jun 2020</text>
<rect x="570" y="930" width="1" height="2" fill="#000"/>
<text x="570" y="942" class="ax" style="letter-spacing:-0.3px">3 Jul 2020</text>
<rect x="634" y="930" width="1" height="2" fill="#000"/>
<text x="634" y="942" class="ax" style="letter-spacing:-0.3px">13 Jul 2020</text>
<rect x="698" y="930" width="1" height="2" fill="#000"/>
<text x="698" y="942" class="ax" style="letter-spacing:-0.3px">22 Jul 2020</text>
<rect x="762" y="930" width="1" height="2" fill="#000"/>
<text x="762" y="942" class="ax" style="letter-spacing:-0.3px">31 Jul 2020</text>
<rect x="826" y="930" width="1" height="2" fill="#000"/>
<text x="826" y="942" class="ax" style="letter-spacing:-0.3px">10 Aug 2020</text>
<rect x="890" y="930" width="1" height="2" fill="#000"/>
<text x="890" y="942" class="ax" style="letter-spacing:-0.3px">19 Aug 2020</text>
<rect x="954" y="930" width="1" height="2" fill="#000"/>
<text x="954" y="942" class="ax" style="letter-spacing:-0.3px">28 Aug 2020</text>
<rect x="1018" y="930" width="1" height="2" fill="#000"/>
<text x="1018" y="942" class="ax" style="letter-spacing:-0.3px">7 Sep 2020</text>
<rect x="1082" y="930" width="1" height="2" fill="#000"/>
<text x="1082" y="942" class="ax" style="letter-spacing:-0.3px">16 Sep 2020</text>
<rect x="1146" y="930" width="1" height="2" fill="#000"/>
<text x="1146" y="942" class="ax" style="letter-spacing:-0.3px">25 Sep 2020</text>
<rect x="1210" y="930" width="1" height="2" fill="#000"/>
<text x="1210" y="942" class="ax" style="letter-spacing:-0.3px">5 Oct 2020</text>
<rect x="1274" y="930" width="1" height="2" fill="#000"/>
<text x="1274" y="942" class="ax" style="letter-spacing:-0.3px">14 Oct 2020</text>
<rect x="1338" y="930" width="1" height="2" fill="#000"/>
<text x="1338" y="942" class="ax" style="letter-spacing:-0.3px">23 Oct 2020</text>
<rect x="1402" y="930" width="1" height="2" fill="#000"/>
<text x="1402" y="942" class="ax" style="letter-spacing:-0.3px">2 Nov 2020</text>
</svg></body></html>
